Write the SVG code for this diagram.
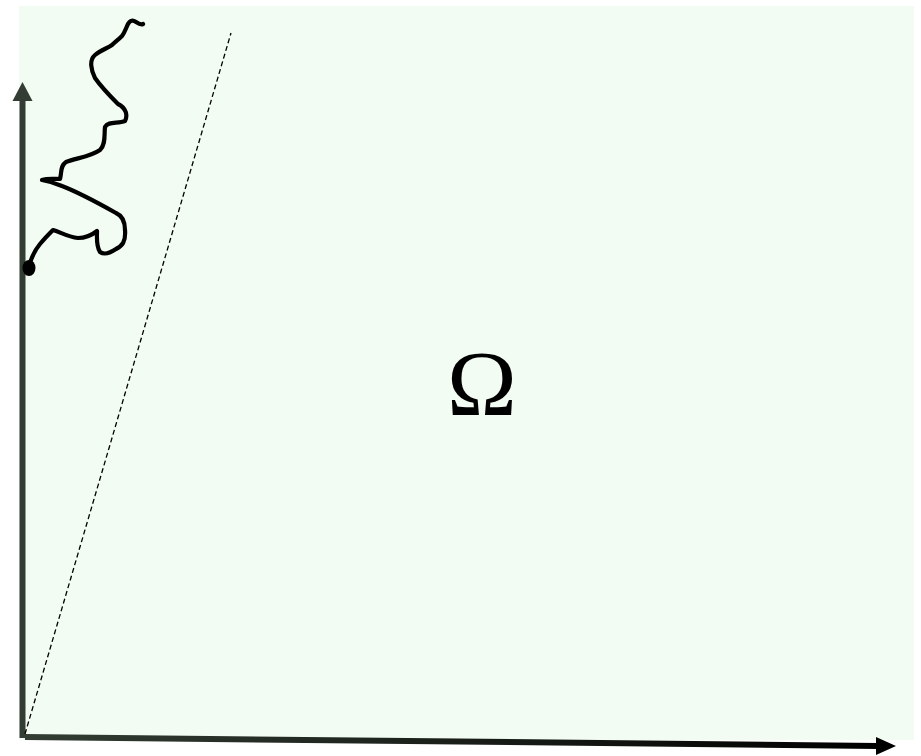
<svg xmlns="http://www.w3.org/2000/svg" width="921" height="756" viewBox="0 0 921 756">
<style>
.bg{fill:#f2fcf2}
.axis{stroke:#333d33;stroke-width:6;fill:none}
.curve{stroke:#000;stroke-width:4.2;fill:none;stroke-linecap:round;stroke-linejoin:round}
.dash{stroke:#000;stroke-width:1.3;stroke-dasharray:5,3;fill:none}
.lbl{font-family:"Liberation Serif",serif;font-size:94px;fill:#000}
</style>
<defs>
<linearGradient id="gx" x1="0" y1="0" x2="1" y2="0">
<stop offset="0" stop-color="#333d33"/><stop offset="1" stop-color="#000"/>
</linearGradient>
</defs>
<rect id="domain" class="bg" x="19" y="6" width="895" height="734"/>
<g id="connectors">
<line class="axis" x1="22.5" y1="738" x2="22.5" y2="100"/>
<path d="M12.5,101 L22.5,82 L32.5,101 Z" fill="#333d33"/>
<line x1="25" y1="737" x2="878" y2="746" stroke="url(#gx)" stroke-width="6"/>
<path d="M876,737 L896,746 L876,755 Z" fill="#000"/>
<line class="dash" x1="25" y1="734" x2="231" y2="33"/>
</g>
<g id="curve">
<path class="curve" d="M29,267 C31,258 35,250 40,244 C45,238 50,233 53,230 C60,232 68,237 78,238 C86,238 92,235 97,231 C97,238 96,246 100,252 C104,255 110,253 116,249 C122,246 126,242 125,230 C125,222 123,216 116,213 C100,204 80,193 62,186 C55,183 48,181 42,180 C48,178 55,179 60,179 C62,172 60,166 66,162 C76,158 90,157 100,150 C106,144 104,135 105,127 C108,121 118,124 125,121 C128,115 126,108 118,104 C110,96 102,88 95,78 C91,70 89,60 95,55 C101,50 108,48 112,45 C115,42 118,40 122,36 C125,32 126,28 128,24 C130,20 133,20 136,22 C139,24 141,25 143,24"/>
<ellipse cx="29" cy="268" rx="6.5" ry="8" fill="#000"/>
</g>
<g id="omega">
<text class="lbl" x="482" y="415" text-anchor="middle">Ω</text>
</g>
</svg>
